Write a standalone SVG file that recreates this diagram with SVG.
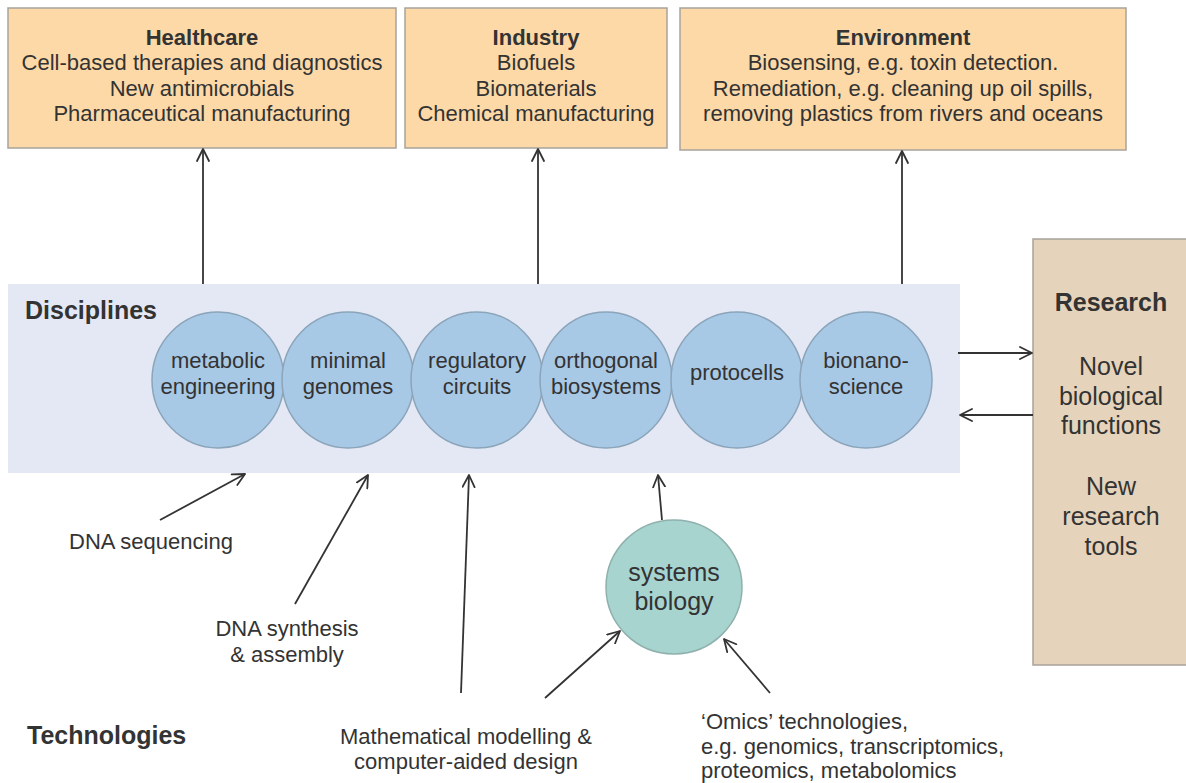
<svg xmlns="http://www.w3.org/2000/svg" width="1186" height="783" viewBox="0 0 1186 783">
  <defs>
    <!-- open chevron arrowhead used on every connector -->
    <marker id="arrow" viewBox="0 0 14 14" refX="13" refY="7" markerWidth="14" markerHeight="14" markerUnits="userSpaceOnUse" orient="auto">
      <path d="M1,1 L13,7 L1,13" fill="none" stroke="#333" stroke-width="1.8" stroke-linecap="round" stroke-linejoin="round"/>
    </marker>
    <style>
      text { font-family: "Liberation Sans", Arial, sans-serif; font-size: 22px; fill: #333; }
      .c { text-anchor: middle; }
      .b { font-weight: bold; }
      .lg { font-size: 25px; }
      .app { fill: #fdd9a8; stroke: #a8a29b; stroke-width: 1.5; }
      .disc { fill: #a8c9e6; stroke: #8ba4b9; stroke-width: 1.5; }
      .sys { fill: #a8d4d0; stroke: #8fb1ad; stroke-width: 1.5; }
      .res { fill: #e6d3bb; stroke: #a8a29b; stroke-width: 1.5; }
      .band { fill: #e3e8f4; }
      .conn line { stroke: #333; stroke-width: 1.8; marker-end: url(#arrow); }
    </style>
  </defs>

  <rect width="1186" height="783" fill="#ffffff"/>

  <!-- application areas -->
  <g id="healthcare">
    <rect class="app" x="8" y="8" width="388" height="140"/>
    <text class="c b" x="202" y="45">Healthcare</text>
    <text class="c" x="202" y="70" font-size="22.5">Cell-based therapies and diagnostics</text>
    <text class="c" x="202" y="96" font-size="22.5">New antimicrobials</text>
    <text class="c" x="202" y="121" font-size="22.5">Pharmaceutical manufacturing</text>
  </g>
  <g id="industry">
    <rect class="app" x="405" y="8" width="262" height="140"/>
    <text class="c b" x="536" y="45">Industry</text>
    <text class="c" x="536" y="70" font-size="22.5">Biofuels</text>
    <text class="c" x="536" y="96" font-size="22.5">Biomaterials</text>
    <text class="c" x="536" y="121" font-size="22.5">Chemical manufacturing</text>
  </g>
  <g id="environment">
    <rect class="app" x="680" y="8" width="446" height="142"/>
    <text class="c b" x="903" y="45">Environment</text>
    <text class="c" x="903" y="70" font-size="22.5">Biosensing, e.g. toxin detection.</text>
    <text class="c" x="903" y="96" font-size="22.5">Remediation, e.g. cleaning up oil spills,</text>
    <text class="c" x="903" y="121" font-size="22.5">removing plastics from rivers and oceans</text>
  </g>

  <!-- disciplines band -->
  <g id="disciplines">
    <rect class="band" x="8" y="284" width="952" height="189"/>
    <text class="b lg" x="25" y="319">Disciplines</text>
  </g>
  <g id="metabolic-engineering">
    <ellipse class="disc" cx="218" cy="380" rx="66" ry="68"/>
    <text class="c" x="218" y="368">metabolic</text>
    <text class="c" x="218" y="394">engineering</text>
  </g>
  <g id="minimal-genomes">
    <ellipse class="disc" cx="348" cy="380" rx="66" ry="68"/>
    <text class="c" x="348" y="368">minimal</text>
    <text class="c" x="348" y="394">genomes</text>
  </g>
  <g id="regulatory-circuits">
    <ellipse class="disc" cx="477" cy="380" rx="66" ry="68"/>
    <text class="c" x="477" y="368">regulatory</text>
    <text class="c" x="477" y="394">circuits</text>
  </g>
  <g id="orthogonal-biosystems">
    <ellipse class="disc" cx="606" cy="380" rx="66" ry="68"/>
    <text class="c" x="606" y="368">orthogonal</text>
    <text class="c" x="606" y="394">biosystems</text>
  </g>
  <g id="protocells">
    <ellipse class="disc" cx="737" cy="380" rx="66" ry="68"/>
    <text class="c" x="737" y="380">protocells</text>
  </g>
  <g id="bionanoscience">
    <ellipse class="disc" cx="866" cy="380" rx="66" ry="68"/>
    <text class="c" x="866" y="368">bionano-</text>
    <text class="c" x="866" y="394">science</text>
  </g>

  <!-- research outcomes -->
  <g id="research">
    <rect class="res" x="1033" y="239" width="160" height="426"/>
    <text class="c b lg" x="1111" y="311">Research</text>
    <text class="c lg" x="1111" y="375">Novel</text>
    <text class="c lg" x="1111" y="405">biological</text>
    <text class="c lg" x="1111" y="434">functions</text>
    <text class="c lg" x="1111" y="495">New</text>
    <text class="c lg" x="1111" y="525">research</text>
    <text class="c lg" x="1111" y="555">tools</text>
  </g>

  <!-- enabling technologies -->
  <g id="systems-biology">
    <ellipse class="sys" cx="674" cy="587" rx="68" ry="67"/>
    <text class="c lg" x="674" y="581">systems</text>
    <text class="c lg" x="674" y="610">biology</text>
  </g>
  <g id="technologies">
    <text class="b lg" x="27" y="744">Technologies</text>
  </g>
  <g id="dna-sequencing">
    <text x="69" y="549">DNA sequencing</text>
  </g>
  <g id="dna-synthesis">
    <text class="c" x="287" y="636">DNA synthesis</text>
    <text class="c" x="287" y="662">&amp; assembly</text>
  </g>
  <g id="modelling">
    <text class="c" x="466" y="744">Mathematical modelling &amp;</text>
    <text class="c" x="466" y="769">computer-aided design</text>
  </g>
  <g id="omics">
    <text x="701" y="729">‘Omics’ technologies,</text>
    <text x="701" y="754">e.g. genomics, transcriptomics,</text>
    <text x="701" y="778">proteomics, metabolomics</text>
  </g>

  <!-- connectors -->
  <g id="connectors" class="conn">
    <line x1="203" y1="284" x2="203" y2="149"/>
    <line x1="538" y1="284" x2="538" y2="149"/>
    <line x1="902" y1="284" x2="902" y2="151"/>
    <line x1="958" y1="353" x2="1032" y2="353"/>
    <line x1="1033" y1="415" x2="960" y2="415"/>
    <line x1="160" y1="520" x2="245" y2="474"/>
    <line x1="295" y1="604" x2="368" y2="475"/>
    <line x1="461" y1="693" x2="469" y2="475"/>
    <line x1="662" y1="520" x2="658" y2="475"/>
    <line x1="545" y1="698" x2="620" y2="631"/>
    <line x1="770" y1="693" x2="724" y2="639"/>
  </g>
</svg>
